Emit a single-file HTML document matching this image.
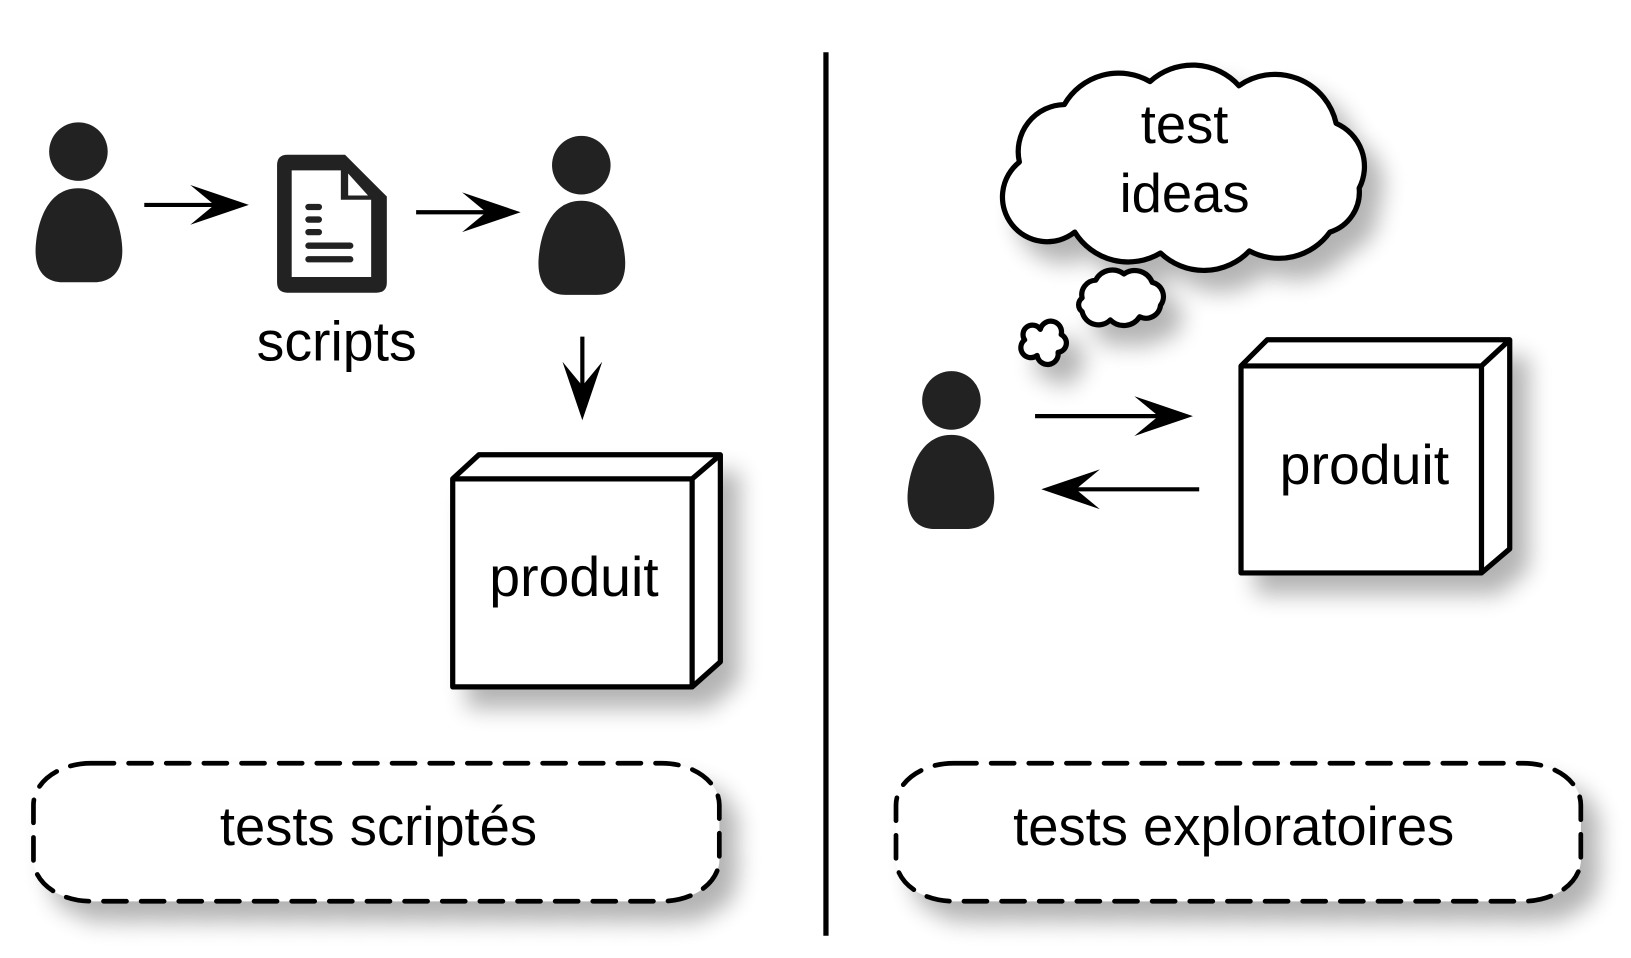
<!DOCTYPE html>
<html><head><meta charset="utf-8"><style>
html,body{margin:0;padding:0;background:#fff;}
svg{display:block;}
text{font-family:"Liberation Sans",sans-serif;fill:#000;}
</style></head><body>
<svg width="1631" height="958" viewBox="0 0 1560 916.3" xmlns="http://www.w3.org/2000/svg">
<defs>
<filter id="sh" x="-20%" y="-20%" width="150%" height="160%">
<feGaussianBlur in="SourceAlpha" stdDeviation="11"/>
<feOffset dx="16" dy="18" result="b"/>
<feComponentTransfer><feFuncA type="linear" slope="0.3"/></feComponentTransfer>
<feMerge><feMergeNode/><feMergeNode in="SourceGraphic"/></feMerge>
</filter>
</defs>

<line x1="790" y1="50" x2="790" y2="895" stroke="#000" stroke-width="5"/>

<g fill="#222">
<circle cx="75" cy="145" r="28"/>
<path d="M75,180 C40,180 34,225 34,240 C34,262 46,270 60,270 L90,270 C104,270 117,262 117,240 C117,225 110,180 75,180 Z"/>
<circle cx="556" cy="158" r="28"/>
<path d="M556,192 C521,192 515,237 515,252 C515,274 527,282 541,282 L571,282 C585,282 598,274 598,252 C598,237 591,192 556,192 Z"/>
<circle cx="910" cy="383" r="28"/>
<path d="M910,416 C875,416 868,461 868,476 C868,498 880,506 894,506 L924,506 C938,506 951,498 951,476 C951,461 944,416 910,416 Z"/>
</g>

<g stroke="#000" stroke-width="4" fill="#000">
<line x1="138" y1="196" x2="215" y2="196"/>
<path d="M238,196 L182,177 L205,196 L182,215 Z" stroke="none"/>
<line x1="398" y1="203" x2="475" y2="203"/>
<path d="M498,203 L442,184 L465,203 L442,222 Z" stroke="none"/>
<line x1="557" y1="322" x2="557" y2="380"/>
<path d="M557,402 L538,346 L557,369 L576,346 Z" stroke="none"/>
<line x1="990" y1="398" x2="1118" y2="398"/>
<path d="M1141,398 L1085,379 L1108,398 L1085,417 Z" stroke="none"/>
<line x1="1147" y1="468" x2="1020" y2="468"/>
<path d="M996,468 L1052,449 L1029,468 L1052,487 Z" stroke="none"/>
</g>

<path d="M275,148 L330,148 L370,188 L370,270 Q370,280 360,280 L275,280 Q265,280 265,270 L265,158 Q265,148 275,148 Z" fill="#222"/>
<path d="M279,163 L326,163 L326,191 L355,191 L355,265 L279,265 Z" fill="#fff"/>
<path d="M333,166 L352,187 L333,187 Z" fill="#fff"/>
<g stroke="#222" stroke-width="6" stroke-linecap="round">
<line x1="295" y1="198" x2="305" y2="198"/>
<line x1="295" y1="210" x2="305" y2="210"/>
<line x1="295" y1="222" x2="305" y2="222"/>
<line x1="295" y1="235" x2="335" y2="235"/>
<line x1="295" y1="248" x2="335" y2="248"/>
</g>
<text x="322" y="345" font-size="53" text-anchor="middle">scripts</text>

<g filter="url(#sh)" stroke="#000" stroke-width="5" stroke-linejoin="round" fill="#fff">
<path d="M433,458 L458,435 L689,435 L689,633 L662,657 L433,657 Z"/>
<path d="M433,458 L662,458 L689,435 M662,458 L662,657" fill="none"/>
</g>
<text x="549" y="570" font-size="53" text-anchor="middle">produit</text>

<g filter="url(#sh)" stroke="#000" stroke-width="5" stroke-linejoin="round" fill="#fff">
<path d="M1187,350 L1212,325 L1444,325 L1444,525 L1417,548 L1187,548 Z"/>
<path d="M1187,350 L1417,350 L1444,325 M1417,350 L1417,548" fill="none"/>
</g>
<text x="1305" y="463" font-size="53" text-anchor="middle">produit</text>

<g filter="url(#sh)" stroke="#000" stroke-width="5" fill="#fff" stroke-linejoin="round">
<path d="M975,155 A45,45 0 0 1 1018,100 A60,60 0 0 1 1100,78 A60,60 0 0 1 1185,82 A60,60 0 0 1 1278,118 A45,45 0 0 1 1300,180 A40,40 0 0 1 1272,222 A60,60 0 0 1 1195,240 A60,60 0 0 1 1110,242 A60,60 0 0 1 1028,222 A40,40 0 0 1 975,155 Z"/>
<path d="M1035,285 A14,14 0 0 1 1048,268 A18,18 0 0 1 1075,262 A18,18 0 0 1 1102,270 A14,14 0 0 1 1110,292 A14,14 0 0 1 1090,303 A18,18 0 0 1 1062,306 A16,16 0 0 1 1035,298 A8,8 0 0 1 1035,285 Z"/>
<path d="M980,325 A9,9 0 0 1 995,315 A10,10 0 0 1 1015,320 A9,9 0 0 1 1012,337 A10,10 0 0 1 992,340 A9,9 0 0 1 980,325 Z"/>
</g>
<text x="1133" y="137" font-size="52" text-anchor="middle">test</text>
<text x="1133" y="203" font-size="52" text-anchor="middle">ideas</text>

<g filter="url(#sh)" stroke="#000" stroke-width="4.5" fill="#fff" stroke-dasharray="22,14" stroke-linecap="round">
<rect x="32" y="730" width="656" height="132" rx="55" ry="40"/>
<rect x="857" y="730" width="655" height="132" rx="55" ry="40"/>
</g>
<text x="362" y="808" font-size="52" text-anchor="middle">tests scriptés</text>
<text x="1180" y="808" font-size="52" text-anchor="middle">tests exploratoires</text>
</svg>
</body></html>
